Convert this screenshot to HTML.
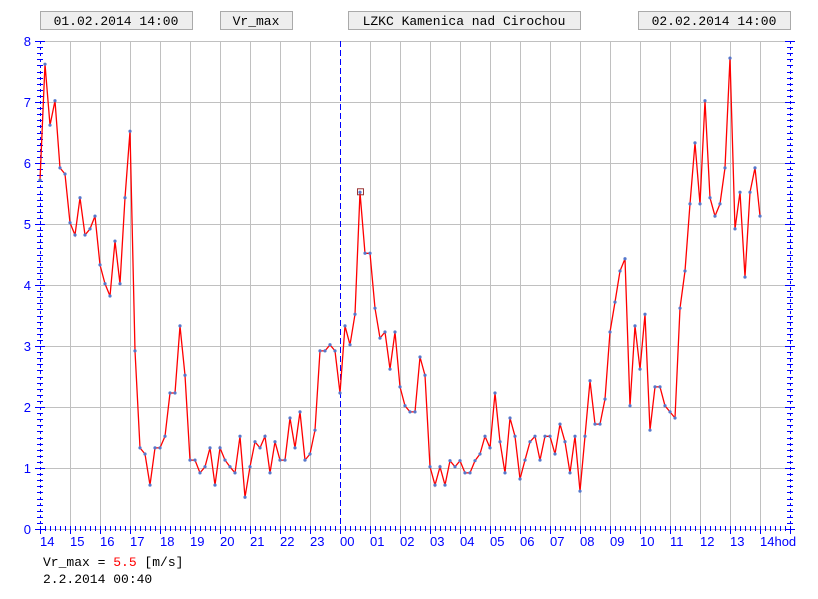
<!DOCTYPE html>
<html><head><meta charset="utf-8"><style>
html,body{margin:0;padding:0;background:#fff;}
svg{display:block;}
.b{font-family:"Liberation Mono",monospace;font-size:13px;fill:#000;}
.l{font-family:"Liberation Sans",sans-serif;font-size:13px;fill:#0000ff;}
</style></head><body>
<svg id="s" width="818" height="599" xmlns="http://www.w3.org/2000/svg">
<rect x="40.5" y="11.5" width="152" height="18" fill="#eeeeee" stroke="#aaaaaa"/>
<rect x="220.5" y="11.5" width="72" height="18" fill="#eeeeee" stroke="#aaaaaa"/>
<rect x="348.5" y="11.5" width="232" height="18" fill="#eeeeee" stroke="#aaaaaa"/>
<rect x="638.5" y="11.5" width="152" height="18" fill="#eeeeee" stroke="#aaaaaa"/>
<text class="b" x="116" y="25" text-anchor="middle">01.02.2014 14:00</text>
<text class="b" x="256" y="25" text-anchor="middle">Vr_max</text>
<text class="b" x="464" y="25" text-anchor="middle">LZKC Kamenica nad Cirochou</text>
<text class="b" x="714" y="25" text-anchor="middle">02.02.2014 14:00</text>
<g id="grid"></g>
<g id="ticks"></g>
<g id="data"></g>
<g class="l">
<text x="31" y="46" text-anchor="end">8</text>
<text x="31" y="107" text-anchor="end">7</text>
<text x="31" y="168" text-anchor="end">6</text>
<text x="31" y="229" text-anchor="end">5</text>
<text x="31" y="290" text-anchor="end">4</text>
<text x="31" y="351" text-anchor="end">3</text>
<text x="31" y="412" text-anchor="end">2</text>
<text x="31" y="473" text-anchor="end">1</text>
<text x="31" y="534" text-anchor="end">0</text>
<text x="40" y="546">14</text><text x="70" y="546">15</text><text x="100" y="546">16</text>
<text x="130" y="546">17</text><text x="160" y="546">18</text><text x="190" y="546">19</text>
<text x="220" y="546">20</text><text x="250" y="546">21</text><text x="280" y="546">22</text>
<text x="310" y="546">23</text><text x="340" y="546">00</text><text x="370" y="546">01</text>
<text x="400" y="546">02</text><text x="430" y="546">03</text><text x="460" y="546">04</text>
<text x="490" y="546">05</text><text x="520" y="546">06</text><text x="550" y="546">07</text>
<text x="580" y="546">08</text><text x="610" y="546">09</text><text x="640" y="546">10</text>
<text x="670" y="546">11</text><text x="700" y="546">12</text><text x="730" y="546">13</text>
<text x="760" y="546">14hod</text>
</g>
<text class="b" x="43" y="566">Vr_max = <tspan fill="#ff0000">5.5</tspan> [m/s]</text>
<text class="b" x="43" y="583">2.2.2014 00:40</text>
</svg>
<script>
var NS="http://www.w3.org/2000/svg";
function el(p,t,a){var e=document.createElementNS(NS,t);for(var k in a)e.setAttribute(k,a[k]);p.appendChild(e);return e;}
var g=document.getElementById('grid'),tk=document.getElementById('ticks'),d=document.getElementById('data');
function Y(v){return 529-v*61;}
for(var i=1;i<=8;i++)el(g,'line',{x1:40,x2:790,y1:Y(i)+.5,y2:Y(i)+.5,stroke:'#c0c0c0'});
for(var x=70;x<=760;x+=30){if(x==340)continue;el(g,'line',{x1:x+.5,x2:x+.5,y1:41,y2:529,stroke:'#c0c0c0'});}
el(g,'line',{x1:340.5,x2:340.5,y1:41,y2:529,stroke:'#0000ff','stroke-dasharray':'6,3'});
el(tk,'line',{x1:40,x2:790,y1:529.5,y2:529.5,stroke:'#c0c0c0'});
for(var i=0;i<=80;i++){var y=Math.round(529-i*6.1)+.5,maj=i%10==0;
 el(tk,'line',{x1:maj?35:37,x2:maj?45:43,y1:y,y2:y,stroke:'#0000ff'});
 el(tk,'line',{x1:maj?785:787,x2:maj?795:793,y1:y,y2:y,stroke:'#0000ff'});}
el(tk,'line',{x1:40.5,x2:40.5,y1:41,y2:529,stroke:'#0000ff','stroke-dasharray':'3,3'});
el(tk,'line',{x1:790.5,x2:790.5,y1:41,y2:529,stroke:'#0000ff','stroke-dasharray':'3,3'});
for(var x=40;x<=790;x+=5){var maj=(x-40)%30==0;
 el(tk,'line',{x1:x+.5,x2:x+.5,y1:526,y2:maj?534:531,stroke:'#0000ff'});}
var v=[5.72,7.62,6.62,7.02,5.92,5.82,5.02,4.82,5.43,4.82,4.92,5.13,4.33,4.02,3.82,4.72,4.02,5.43,6.52,2.92,
1.33,1.23,0.72,1.33,1.33,1.52,2.23,2.23,3.33,2.52,1.13,1.13,0.92,1.02,1.33,0.72,1.33,1.13,1.02,0.92,
1.52,0.52,1.02,1.43,1.33,1.52,0.92,1.43,1.13,1.13,1.82,1.33,1.92,1.13,1.23,1.62,2.92,2.92,3.02,2.92,
2.23,3.33,3.02,3.52,5.52,4.52,4.52,3.62,3.13,3.23,2.62,3.23,2.33,2.02,1.92,1.92,2.82,2.52,1.02,0.72,
1.02,0.72,1.12,1.02,1.12,0.92,0.92,1.12,1.23,1.52,1.33,2.23,1.43,0.92,1.82,1.52,0.82,1.13,1.43,1.52,
1.13,1.52,1.52,1.23,1.72,1.43,0.92,1.52,0.62,1.52,2.43,1.72,1.72,2.13,3.23,3.72,4.23,4.43,2.02,3.33,
2.62,3.52,1.62,2.33,2.33,2.02,1.92,1.82,3.62,4.23,5.33,6.33,5.33,7.02,5.43,5.13,5.33,5.92,7.72,4.92,
5.52,4.13,5.52,5.92,5.13];
var pts=v.map(function(a,i){return (40+5*i)+','+Y(a).toFixed(1);}).join(' ');
el(d,'polyline',{points:pts,fill:'none',stroke:'#ff0000','stroke-width':1.3});
v.forEach(function(a,i){el(d,'circle',{cx:40+5*i,cy:Y(a),r:1.6,fill:'#5577cc'});});
el(d,'rect',{x:357.5,y:Y(5.52)-3.5,width:6,height:6,fill:'none',stroke:'#993333'});
</script>
</body></html>
